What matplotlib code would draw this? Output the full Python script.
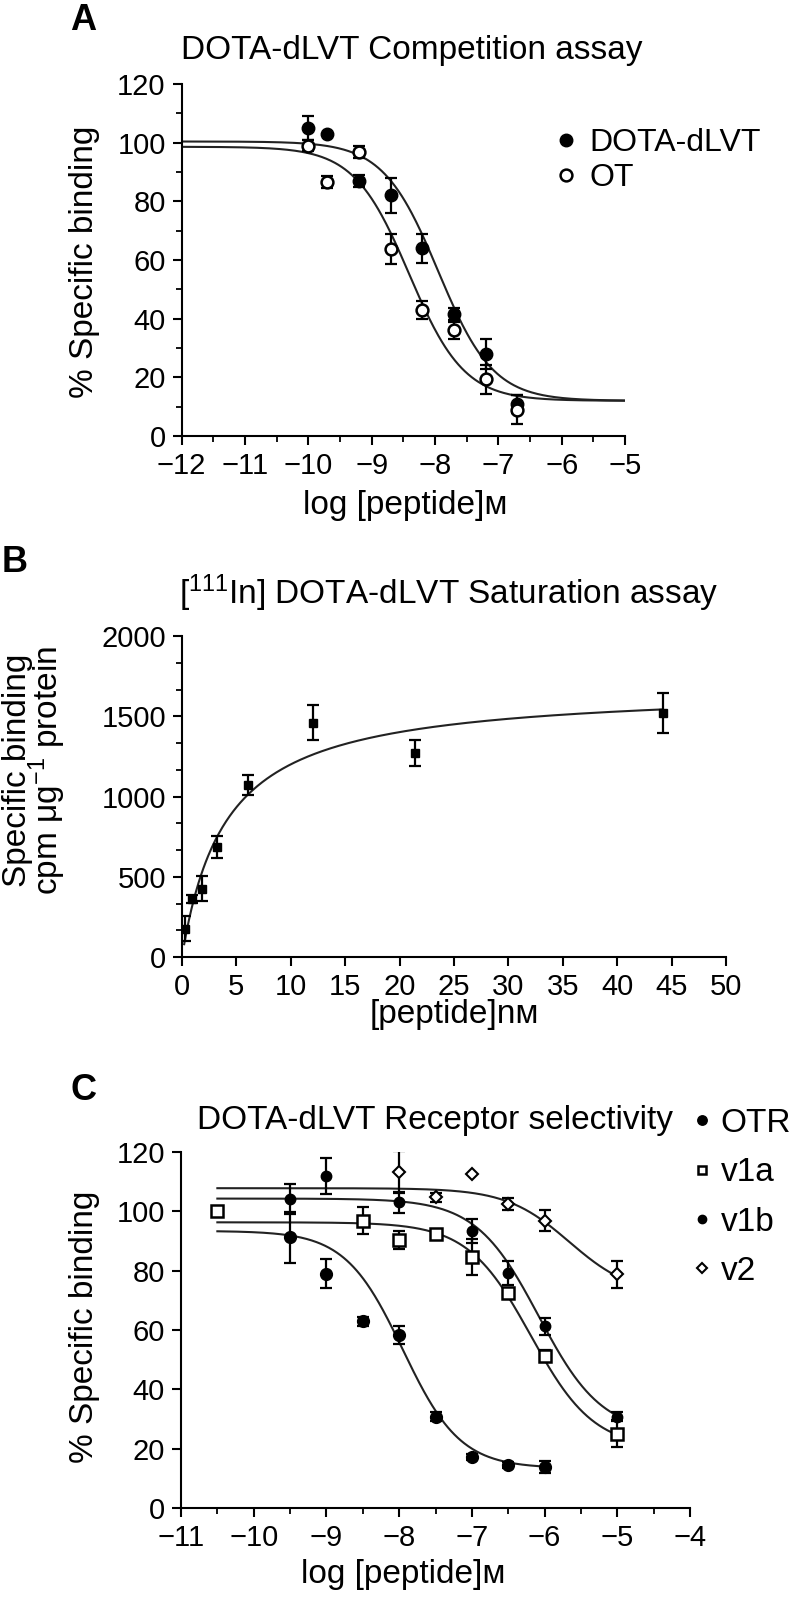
import numpy as np
import matplotlib as mpl
mpl.use('Agg')
import matplotlib.pyplot as plt
from matplotlib.ticker import MultipleLocator

plt.rcParams['font.family'] = ['Liberation Sans', 'DejaVu Sans']
plt.rcParams['mathtext.fontset'] = 'custom'
plt.rcParams['mathtext.rm'] = 'Liberation Sans'
plt.rcParams['mathtext.it'] = 'Liberation Sans:italic'
plt.rcParams['mathtext.bf'] = 'Liberation Sans:bold'
plt.rcParams['axes.linewidth'] = 1.5

# ---- panel A: competition assay ----
a_x = [-10.0, -9.7, -9.2, -8.7, -8.2, -7.7, -7.2, -6.7]
a_dota = [105, 103, 87, 82, 64, 41.5, 28, 11]
a_dota_err = [4, 0, 2, 6, 5, 2, 5, 3]
a_ot = [99, 86.5, 96.7, 63.7, 43, 36, 19.3, 9]
a_ot_err = [2, 2, 2, 5, 3, 3, 5, 5]
# fitted one-site curves: top, bottom, logIC50, hill slope
a_fit_dota = [100.4, 12.0, -7.95, 1.0]
a_fit_ot = [98.6, 12.0, -8.41, 1.0]
a_fit_range = [-12, -5]

# ---- panel B: saturation assay ----
b_x = [0.23, 0.95, 1.87, 3.18, 6.07, 12.0, 21.4, 44.2]
b_y = [177, 364, 426, 686, 1071, 1459, 1272, 1522]
b_err = [80, 25, 78, 67, 62, 109, 83, 125]
# hyperbola fit: Bmax, Kd
b_fit = [1683, 4.02]
b_fit_range = [0.2, 44.2]

# ---- panel C: receptor selectivity ----
c_otr_x = [-9.5, -9.0, -8.5, -8.0, -7.5, -7.0, -6.5, -6.0]
c_otr = [91.2, 79, 63, 58.4, 30.7, 17.2, 14.4, 13.8]
c_otr_err = [8.5, 5, 1.5, 3, 1.5, 1, 1, 2]
c_v1a_x = [-10.5, -8.5, -8.0, -7.5, -7.0, -6.5, -6.0, -5.0]
c_v1a = [100.2, 96.8, 90.3, 92.3, 84.6, 72.5, 51.1, 25.1]
c_v1a_err = [0, 4.5, 3, 1.5, 6, 1.5, 2, 4.5]
c_v1b_x = [-9.5, -9.0, -8.0, -7.0, -6.5, -6.0, -5.0]
c_v1b = [104.2, 112, 103, 93.4, 79.3, 61.2, 30.7]
c_v1b_err = [5, 6, 3.5, 4, 4, 3, 1.5]
c_v2_x = [-8.0, -7.5, -7.0, -6.5, -6.0, -5.0]
c_v2 = [113.2, 104.7, 112.7, 102.5, 96.8, 78.8]
c_v2_err = [7, 1.5, 0, 2, 3.5, 4.5]
c_fit_otr = [93.4, 13.4, -7.95, 1.1]
c_fit_v1a = [96.3, 20.0, -6.19, 1.0]
c_fit_v1b = [104.3, 25.0, -6.08, 1.0]
c_fit_v2 = [107.8, 71.6, -5.66, 1.0]
c_fit_range_otr = [-10.5, -6.0]
c_fit_range = [-10.5, -5.0]

W, H = 793, 1600


def dose_response(x, top, bottom, logic50, hill):
    return bottom + (top - bottom) / (1 + 10 ** ((x - logic50) * hill))


def fx(px):
    return px / W


def fy(py):
    return 1 - py / H


def add_points(ax, x, y, err, **kw):
    x, y, err = np.asarray(x), np.asarray(y), np.asarray(err)
    has = err > 0
    ax.errorbar(x[has], y[has], yerr=err[has], fmt='none', ecolor='black',
                elinewidth=1.6, capsize=4.5, capthick=1.6, zorder=3)
    ax.plot(x, y, ls='', color='black', zorder=4, **kw)


def style_axes(ax):
    for s in ('top', 'right'):
        ax.spines[s].set_visible(False)
    ax.tick_params(which='major', direction='out', length=6.5, width=1.5,
                   labelsize=21, pad=5)
    ax.tick_params(which='minor', direction='out', length=4, width=1.3)


fig = plt.figure(figsize=(W / 100, H / 100), dpi=100)

# panel A
axA = fig.add_axes([fx(181.7), fy(436), fx(625) - fx(181.7), (436 - 84) / H])
xs = np.linspace(*a_fit_range, 400)
axA.plot(xs, dose_response(xs, *a_fit_dota), color='#222222', lw=1.5, zorder=2)
axA.plot(xs, dose_response(xs, *a_fit_ot), color='#222222', lw=1.5, zorder=2)
add_points(axA, a_x, a_dota, a_dota_err, marker='o', ms=9, mfc='black',
           label='DOTA-dLVT')
add_points(axA, a_x, a_ot, a_ot_err, marker='o', ms=8.5, mfc='white',
           mew=1.8, label='OT')
axA.set_xlim(-12, -5)
axA.set_ylim(0, 120)
axA.xaxis.set_major_locator(MultipleLocator(1))
axA.xaxis.set_minor_locator(MultipleLocator(0.5))
axA.yaxis.set_major_locator(MultipleLocator(20))
axA.yaxis.set_minor_locator(MultipleLocator(10))
style_axes(axA)
axA.legend(loc='upper left', bbox_to_anchor=(fx(556), fy(128)),
           bbox_transform=fig.transFigure, frameon=False, fontsize=23,
           handlelength=0.6, handletextpad=0.45, labelspacing=0.15,
           borderpad=0, borderaxespad=0)
fig.text(fx(83), fy(21), 'A', fontsize=26, fontweight='bold',
         ha='center', va='center')
fig.text(fx(412), fy(50), 'DOTA-dLVT Competition assay', fontsize=24,
         ha='center', va='center')
fig.text(fx(85), fy(262), '% Specific binding', fontsize=24, rotation=90,
         ha='center', va='center')
fig.text(fx(405), fy(506), 'log [peptide]ᴍ', fontsize=24,
         ha='center', va='center')

# panel B
axB = fig.add_axes([fx(182), fy(957), fx(726) - fx(182), (957 - 636) / H])
xs = np.linspace(*b_fit_range, 400)
axB.plot(xs, b_fit[0] * xs / (b_fit[1] + xs), color='#222222', lw=1.5, zorder=2)
add_points(axB, b_x, b_y, b_err, marker='s', ms=5.5, mfc='black')
axB.set_xlim(0, 50)
axB.set_ylim(0, 2000)
axB.xaxis.set_major_locator(MultipleLocator(5))
axB.yaxis.set_major_locator(MultipleLocator(500))
axB.yaxis.set_minor_locator(MultipleLocator(500 / 3))
style_axes(axB)
fig.text(fx(15), fy(562), 'B', fontsize=26, fontweight='bold',
         ha='center', va='center')
fig.text(fx(449), fy(593), '[$^{111}$In] DOTA-dLVT Saturation assay',
         fontsize=24, ha='center', va='center')
fig.text(fx(35), fy(770), 'Specific binding\ncpm μg$^{-1}$ protein',
         fontsize=24, rotation=90, ha='center', va='center',
         linespacing=0.8)
fig.text(fx(454), fy(1014), '[peptide]nᴍ', fontsize=24,
         ha='center', va='center')

# panel C
axC = fig.add_axes([fx(181), fy(1508), fx(690) - fx(181), (1508 - 1152) / H])
xs = np.linspace(*c_fit_range_otr, 400)
axC.plot(xs, dose_response(xs, *c_fit_otr), color='#222222', lw=1.5, zorder=2)
xs = np.linspace(*c_fit_range, 400)
for fit in (c_fit_v1a, c_fit_v1b, c_fit_v2):
    axC.plot(xs, dose_response(xs, *fit), color='#222222', lw=1.5, zorder=2)
add_points(axC, c_otr_x, c_otr, c_otr_err, marker='o', ms=8.5, mfc='black',
           label='OTR')
add_points(axC, c_v1a_x, c_v1a, c_v1a_err, marker='s', ms=8, mfc='white',
           mew=1.8, label='v1a')
add_points(axC, c_v1b_x, c_v1b, c_v1b_err, marker='o', ms=7.5, mfc='black',
           label='v1b')
add_points(axC, c_v2_x, c_v2, c_v2_err, marker='D', ms=6.5, mfc='white',
           mew=1.5, label='v2')
axC.set_xlim(-11, -4)
axC.set_ylim(0, 120)
axC.xaxis.set_major_locator(MultipleLocator(1))
axC.xaxis.set_minor_locator(MultipleLocator(0.5))
axC.yaxis.set_major_locator(MultipleLocator(20))
style_axes(axC)
axC.legend(loc='upper left', bbox_to_anchor=(fx(694), fy(1108)),
           bbox_transform=fig.transFigure, frameon=False, fontsize=24,
           handlelength=0.5, handletextpad=0.3, labelspacing=0.55,
           borderpad=0, borderaxespad=0, markerscale=0.8)
fig.text(fx(83), fy(1090), 'C', fontsize=26, fontweight='bold',
         ha='center', va='center')
fig.text(fx(435), fy(1120), 'DOTA-dLVT Receptor selectivity', fontsize=24,
         ha='center', va='center')
fig.text(fx(85), fy(1327), '% Specific binding', fontsize=24, rotation=90,
         ha='center', va='center')
fig.text(fx(403), fy(1575), 'log [peptide]ᴍ', fontsize=24,
         ha='center', va='center')

fig.savefig('out.png', dpi=100)
